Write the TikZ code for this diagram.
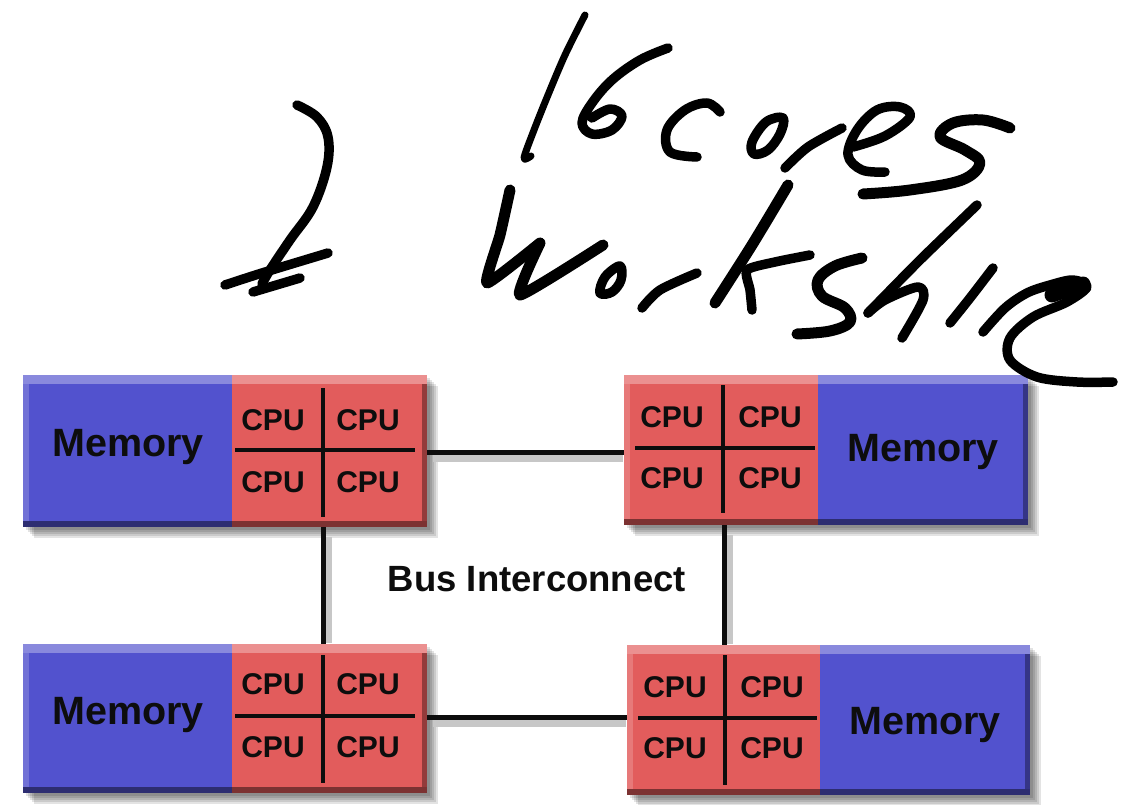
\documentclass[tikz,border=0pt]{standalone}
\usepackage{fontspec}
\setmainfont{Liberation Sans}
\usetikzlibrary{fit,calc}
\definecolor{memblue}{RGB}{82,82,206}
\definecolor{cpured}{RGB}{226,92,92}
\tikzset{
  part/.style={draw=none, inner sep=0pt, outer sep=0pt},
  mempart/.style={part, fill=memblue},
  cpupart/.style={part, fill=cpured},
  memlabel/.style={inner sep=0pt, font=\fontsize{39.5}{40}\selectfont\bfseries, text=black!95},
  cpulabel/.style={inner sep=0pt, font=\fontsize{30}{31}\selectfont\bfseries, text=black!95},
  buslabel/.style={inner sep=0pt, font=\fontsize{36.5}{38}\selectfont\bfseries, text=black!95},
  cpugrid/.style={line width=3.4pt, black!95},
  bus/.style={line width=5pt, black!95},
  busshadow/.style={line width=8pt, black!22},
  hand/.style={line width=9.5pt, line cap=round, line join=round, black},
}
\newcommand\blockshadow[4]{%
  \foreach \o in {3,5,7,9,11}{\fill[black,opacity=0.11] (#1+\o,#2+\o) rectangle (#3+\o,#4+\o);}}
\newcommand\blockbevel[4]{%
  \fill[white,opacity=0.32] (#1,#2) rectangle (#3,#2+9);
  \fill[white,opacity=0.18] (#1,#2+9) rectangle (#1+6,#4-6);
  \fill[black,opacity=0.45] (#1,#4-6) rectangle (#3,#4);
  \fill[black,opacity=0.35] (#3-5,#2+9) rectangle (#3,#4-6);}
\begin{document}
\begin{tikzpicture}[x=1pt,y=-1pt]
\useasboundingbox (0,0) rectangle (1125,805);
\fill[white] (0,0) rectangle (1125,805);

\coordinate (tlg) at (323,450);
\coordinate (trg) at (724,448);
\coordinate (blg) at (323,716);
\coordinate (brg) at (724,718);

% ---------- top-left block ----------
\blockshadow{23}{375}{427}{527}
\node[mempart, fit={(23,375) (232,527)}] (tlm) {};
\node[cpupart, fit={(232,375) (427,527)}] (tlc) {};
\blockbevel{23}{375}{427}{527}
\node[memlabel] (tlmt) at (128,447) {Memory};
\draw[cpugrid] (323,388) -- (323,517);
\draw[cpugrid] (235,450) -- (415,450);
\node[cpulabel] (tl1) at (273,420) {CPU};
\node[cpulabel] (tl2) at (368,420) {CPU};
\node[cpulabel] (tl3) at (273,482) {CPU};
\node[cpulabel] (tl4) at (368,482) {CPU};

% ---------- top-right block ----------
\blockshadow{624}{375}{1028}{525}
\node[cpupart, fit={(624,375) (818,525)}] (trc) {};
\node[mempart, fit={(818,375) (1028,525)}] (trm) {};
\blockbevel{624}{375}{1028}{525}
\node[memlabel] (trmt) at (923,452) {Memory};
\draw[cpugrid] (723,385) -- (723,513);
\draw[cpugrid] (635,448) -- (815,448);
\node[cpulabel] (tr1) at (672,417) {CPU};
\node[cpulabel] (tr2) at (770,417) {CPU};
\node[cpulabel] (tr3) at (672,478) {CPU};
\node[cpulabel] (tr4) at (770,478) {CPU};

% ---------- bottom-left block ----------
\blockshadow{23}{644}{427}{793}
\node[mempart, fit={(23,644) (232,793)}] (blm) {};
\node[cpupart, fit={(232,644) (427,793)}] (blc) {};
\blockbevel{23}{644}{427}{793}
\node[memlabel] (blmt) at (128,715) {Memory};
\draw[cpugrid] (323,655) -- (323,783);
\draw[cpugrid] (235,716) -- (415,716);
\node[cpulabel] (bl1) at (273,684) {CPU};
\node[cpulabel] (bl2) at (368,684) {CPU};
\node[cpulabel] (bl3) at (273,747) {CPU};
\node[cpulabel] (bl4) at (368,747) {CPU};

% ---------- bottom-right block ----------
\blockshadow{627}{645}{1030}{795}
\node[cpupart, fit={(627,645) (820,795)}] (brc) {};
\node[mempart, fit={(820,645) (1030,795)}] (brm) {};
\blockbevel{627}{645}{1030}{795}
\node[memlabel] (brmt) at (925,725) {Memory};
\draw[cpugrid] (725,655) -- (725,785);
\draw[cpugrid] (638,718) -- (817,718);
\node[cpulabel] (br1) at (675,687) {CPU};
\node[cpulabel] (br2) at (772,687) {CPU};
\node[cpulabel] (br3) at (675,748) {CPU};
\node[cpulabel] (br4) at (772,748) {CPU};

% ---------- bus connectors ----------
\draw[busshadow] ([shift={(6,6)}]tlc.east |- 0,452) -- ([shift={(-1,6)}]trc.west |- 0,452);
\draw[busshadow] ([shift={(6,6)}]blc.east |- 0,717) -- ([shift={(-1,6)}]brc.west |- 0,717);
\draw[busshadow] ([shift={(5,10)}]tlc.south -| tlg) -- ([shift={(5,-1)}]blc.north -| tlg);
\draw[busshadow] ([shift={(5,10)}]trc.south -| trg) -- ([shift={(5,-1)}]brc.north -| trg);
\draw[bus] (tlc.east |- 0,452) -- (trc.west |- 0,452);
\draw[bus] (blc.east |- 0,717) -- (brc.west |- 0,717);
\draw[bus] (tlc.south -| tlg) -- (blc.north -| tlg);
\draw[bus] (trc.south -| trg) -- (brc.north -| trg);
\node[buslabel] (busl) at (537,579) {Bus Interconnect};

% ---------- handwritten annotation ----------
% arrow
\draw[hand] plot[smooth,tension=0.6] coordinates {(297,105) (317,117) (328,137) (327,167) (313,207) (290,240) (270,270) (262,284)};
\draw[hand] plot[smooth,tension=0.5] coordinates {(225,285) (262,273) (328,253)};
\draw[hand] plot[smooth,tension=0.5] coordinates {(253,292) (300,278)};
% 16cores
\draw[hand,line width=7pt] plot[smooth,tension=0.5] coordinates {(585,15) (565,55) (548,95) (534,130) (524,158) (531,156)};
\draw[hand] plot[smooth,tension=0.6] coordinates {(668,48) (640,60) (612,80) (592,103) (582,123) (592,134) (612,130) (622,116) (610,109) (592,118)};
\draw[hand] plot[smooth,tension=0.6] coordinates {(720,112) (707,103) (685,110) (667,130) (670,152) (697,157)};
\draw[hand] plot[smooth cycle,tension=0.6] coordinates {(783,118) (766,122) (752,142) (754,154) (768,150) (780,134)};
\draw[hand] plot[smooth,tension=0.5] coordinates {(785,168) (808,147) (842,128)};
\draw[hand] plot[smooth,tension=0.6] coordinates {(853,147) (885,136) (910,117) (900,107) (877,110) (857,130) (848,155) (862,170) (885,172)};
\draw[hand,line width=11pt] plot[smooth,tension=0.6] coordinates {(1010,128) (983,120) (953,123) (940,137) (965,150) (980,163) (962,180) (910,190) (863,194)};
% Workshine
\draw[hand,line width=11pt] plot[smooth,tension=0.3] coordinates {(510,190) (500,235) (487,283) (540,243)};
\draw[hand,line width=11pt] plot[smooth,tension=0.3] coordinates {(540,243) (520,295) (603,245)};
\draw[hand] plot[smooth cycle,tension=0.6] coordinates {(620,266) (605,277) (600,293) (612,292) (621,280)};
\draw[hand] plot[smooth,tension=0.5] coordinates {(642,308) (660,290) (697,273)};
\draw[hand,line width=11pt] plot[smooth,tension=0.5] coordinates {(788,185) (752,245) (715,303)};
\draw[hand] plot[smooth,tension=0.4] coordinates {(810,255) (775,262) (747,270) (750,290) (752,310)};
\draw[hand,line width=11pt] plot[smooth,tension=0.6] coordinates {(862,258) (835,266) (818,280) (822,296) (845,308) (850,322) (830,331) (797,334)};
\draw[hand] plot[smooth,tension=0.4] coordinates {(977,205) (920,260) (868,313)};
\draw[hand] plot[smooth,tension=0.5] coordinates {(868,313) (885,300) (918,287) (923,300) (902,338)};
\draw[hand] plot[smooth,tension=0.5] coordinates {(993,268) (970,298) (950,323)};
\draw[hand] plot[smooth,tension=0.55] coordinates {(983,332) (1005,308) (1027,293) (1050,285) (1073,280) (1087,287) (1067,302) (1033,317) (1010,338) (1010,360) (1037,377) (1077,382) (1113,382)};
\draw[hand,line width=15pt] (1052,295) -- (1083,284);
\end{tikzpicture}
\end{document}
